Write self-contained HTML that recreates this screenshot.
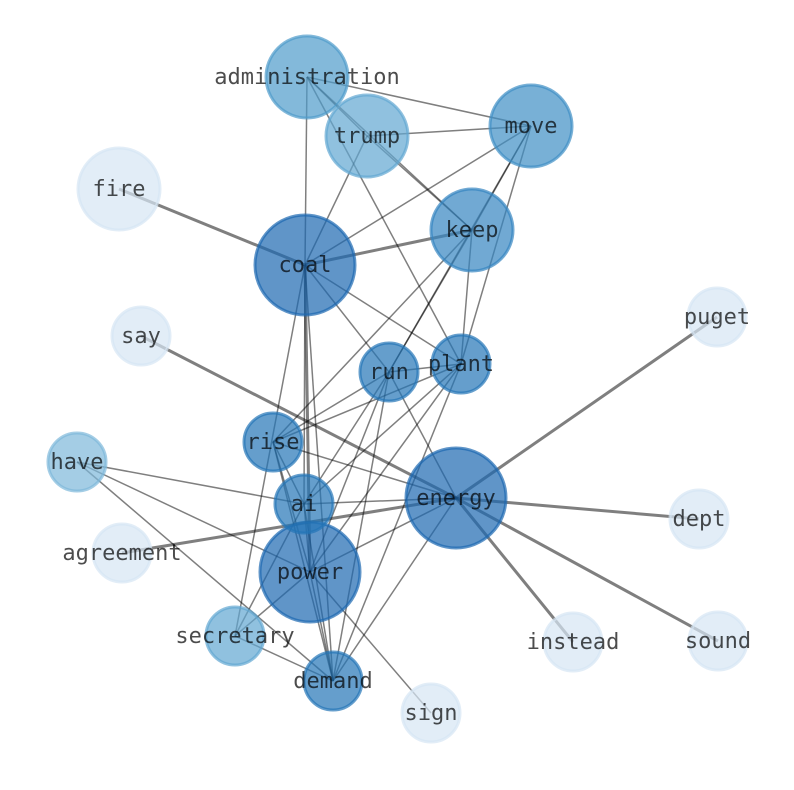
<!DOCTYPE html>
<html><head><meta charset="utf-8"><style>
html,body{margin:0;padding:0;background:#fff}
svg{display:block}
text{font-family:"DejaVu Sans Mono","Liberation Mono",monospace;font-size:22px;fill:#000;fill-opacity:.7;text-anchor:middle}
</style></head><body>
<svg width="794" height="790" viewBox="0 0 794 790" xmlns="http://www.w3.org/2000/svg">
<g stroke="#000" stroke-opacity=".5" stroke-width="1.5" fill="none">
<line x1="307" y1="77" x2="531" y2="126"/>
<line x1="307" y1="77" x2="472" y2="230"/>
<line x1="307" y1="77" x2="367" y2="136"/>
<line x1="307" y1="77" x2="305" y2="265"/>
<line x1="307" y1="77" x2="461" y2="364"/>
<line x1="367" y1="136" x2="531" y2="126"/>
<line x1="367" y1="136" x2="305" y2="265"/>
<line x1="367" y1="136" x2="472" y2="230"/>
<line x1="531" y1="126" x2="305" y2="265"/>
<line x1="531" y1="126" x2="472" y2="230"/>
<line x1="531" y1="126" x2="389" y2="372"/>
<line x1="531" y1="126" x2="461" y2="364"/>
<line x1="472" y1="230" x2="461" y2="364"/>
<line x1="472" y1="230" x2="389" y2="372"/>
<line x1="472" y1="230" x2="273" y2="442"/>
<line x1="305" y1="265" x2="389" y2="372"/>
<line x1="305" y1="265" x2="461" y2="364"/>
<line x1="305" y1="265" x2="235" y2="636"/>
<line x1="305" y1="265" x2="304" y2="504"/>
<line x1="305" y1="265" x2="333" y2="681"/>
<line x1="389" y1="372" x2="461" y2="364"/>
<line x1="389" y1="372" x2="273" y2="442"/>
<line x1="389" y1="372" x2="304" y2="504"/>
<line x1="389" y1="372" x2="310" y2="572"/>
<line x1="389" y1="372" x2="333" y2="681"/>
<line x1="389" y1="372" x2="456" y2="498"/>
<line x1="461" y1="364" x2="273" y2="442"/>
<line x1="461" y1="364" x2="304" y2="504"/>
<line x1="461" y1="364" x2="310" y2="572"/>
<line x1="461" y1="364" x2="333" y2="681"/>
<line x1="273" y1="442" x2="456" y2="498"/>
<line x1="273" y1="442" x2="304" y2="504"/>
<line x1="273" y1="442" x2="310" y2="572"/>
<line x1="273" y1="442" x2="333" y2="681"/>
<line x1="77" y1="462" x2="304" y2="504"/>
<line x1="77" y1="462" x2="310" y2="572"/>
<line x1="77" y1="462" x2="333" y2="681"/>
<line x1="304" y1="504" x2="456" y2="498"/>
<line x1="304" y1="504" x2="310" y2="572"/>
<line x1="304" y1="504" x2="333" y2="681"/>
<line x1="304" y1="504" x2="235" y2="636"/>
<line x1="456" y1="498" x2="310" y2="572"/>
<line x1="456" y1="498" x2="333" y2="681"/>
<line x1="310" y1="572" x2="235" y2="636"/>
<line x1="310" y1="572" x2="333" y2="681"/>
<line x1="310" y1="572" x2="431" y2="713"/>
<line x1="235" y1="636" x2="333" y2="681"/>
</g>
<g stroke="#000" stroke-opacity=".5" stroke-width="3" fill="none">
<line x1="119" y1="189" x2="305" y2="265"/>
<line x1="305" y1="265" x2="472" y2="230"/>
<line x1="305" y1="265" x2="310" y2="572"/>
<line x1="141" y1="336" x2="456" y2="498"/>
<line x1="717" y1="317" x2="456" y2="498"/>
<line x1="699" y1="519" x2="456" y2="498"/>
<line x1="122" y1="553" x2="456" y2="498"/>
<line x1="573" y1="642" x2="456" y2="498"/>
<line x1="718" y1="641" x2="456" y2="498"/>
</g>
<g stroke-width="3" fill-opacity=".7" stroke-opacity=".7">
<g fill="#1c68b0" stroke="#1c68b0">
<circle cx="305" cy="265" r="50"/>
<circle cx="456" cy="498" r="50"/>
<circle cx="310" cy="572" r="50"/>
</g>
<g fill="#2475b6" stroke="#2475b6">
<circle cx="461" cy="364" r="29"/>
<circle cx="389" cy="372" r="29"/>
<circle cx="273" cy="442" r="29"/>
<circle cx="304" cy="504" r="29"/>
<circle cx="333" cy="681" r="29"/>
</g>
<g fill="#3585c0" stroke="#3585c0">
<circle cx="472" cy="230" r="41"/>
</g>
<g fill="#3f8ec5" stroke="#3f8ec5">
<circle cx="531" cy="126" r="41"/>
</g>
<g fill="#4f9bcb" stroke="#4f9bcb">
<circle cx="307" cy="77" r="41"/>
</g>
<g fill="#61a7d2" stroke="#61a7d2">
<circle cx="367" cy="136" r="41"/>
<circle cx="235" cy="636" r="29"/>
</g>
<g fill="#7db8da" stroke="#7db8da">
<circle cx="77" cy="462" r="29"/>
</g>
<g fill="#d6e6f4" stroke="#d6e6f4">
<circle cx="119" cy="189" r="41"/>
<circle cx="141" cy="336" r="29"/>
<circle cx="717" cy="317" r="29"/>
<circle cx="699" cy="519" r="29"/>
<circle cx="122" cy="553" r="29"/>
<circle cx="573" cy="642" r="29"/>
<circle cx="718" cy="641" r="29"/>
<circle cx="431" cy="713" r="29"/>
</g>
</g>
<text x="307" y="84">administration</text>
<text x="367" y="143">trump</text>
<text x="531" y="133">move</text>
<text x="119" y="196">fire</text>
<text x="472" y="237">keep</text>
<text x="305" y="272">coal</text>
<text x="141" y="343">say</text>
<text x="717" y="324">puget</text>
<text x="461" y="371">plant</text>
<text x="389" y="379">run</text>
<text x="273" y="449">rise</text>
<text x="77" y="469">have</text>
<text x="456" y="505">energy</text>
<text x="304" y="511">ai</text>
<text x="699" y="526">dept</text>
<text x="122" y="560">agreement</text>
<text x="310" y="579">power</text>
<text x="235" y="643">secretary</text>
<text x="573" y="649">instead</text>
<text x="718" y="648">sound</text>
<text x="333" y="688">demand</text>
<text x="431" y="720">sign</text>
</svg>
</body></html>
